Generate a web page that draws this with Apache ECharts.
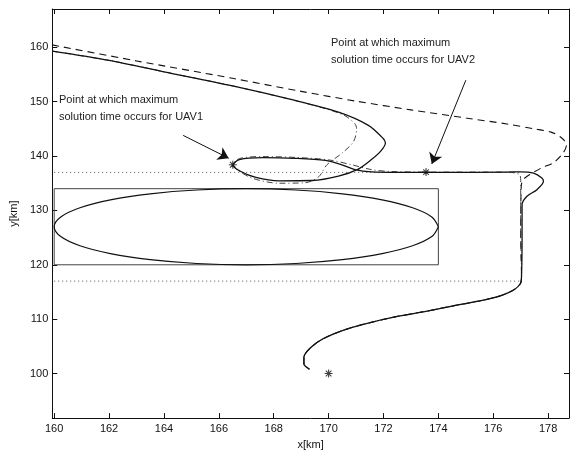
<!DOCTYPE html>
<html>
<head>
<meta charset="utf-8">
<script src="https://cdn.jsdelivr.net/npm/echarts@6/dist/echarts.min.js"></script>
<style>
html,body{margin:0;padding:0;background:#fff;}
#chart{width:570px;height:455px;}
</style>
</head>
<body>
<div id="chart"></div>
<script>
// ---- axis ticks ----
const xTicks = [160, 162, 164, 166, 168, 170, 172, 174, 176, 178];
const yTicks = [100, 110, 120, 130, 140, 150, 160];
const xRange = [159.93, 178.76];
const yRange = [91.8, 167.05];

// ---- UAV1 trajectory (solid): upper part ----
const uav1UpperX = [159.93, 162, 164, 166.5, 168.55, 170.36, 171.45, 171.99, 172.07, 171.9, 171.55, 171.08, 170.36, 169.4, 168.19, 167.35, 166.8, 166.51, 166.75, 167.59, 168.79, 169.88, 170.48, 170.96, 171.57, 172.53, 174, 176.5, 176.99, 177.47, 177.77, 177.83, 177.59, 177.23, 177.05, 177.05];
const uav1UpperY = [159.3, 157.6, 155.5, 152.9, 150.5, 148.07, 145.64, 143.22, 142.4, 140.9, 139.3, 137.6, 136.3, 135.5, 135.45, 136.07, 137.16, 138.36, 139.35, 139.7, 139.58, 139.2, 138.4, 137.5, 137.08, 137.0, 137.0, 137.05, 137.1, 136.85, 135.95, 135.35, 133.82, 132.62, 131.1, 125];

// ---- alternative UAV1 trajectory (dash-dot): upper part ----
const uav1AltX = [159.93, 162, 164, 166.5, 168.55, 169.9, 170.6, 170.95, 171.02, 170.9, 170.48, 169.94, 169.64, 169.15, 168.19, 167.23, 166.69, 166.51, 166.75, 167.59, 168.79, 170.0, 170.84, 171.57, 172.29, 174, 176.5, 176.95, 177.0, 177.0];
const uav1AltY = [159.3, 157.6, 155.5, 152.9, 150.5, 148.7, 147.4, 146.0, 145.0, 142.6, 140.5, 138.4, 136.2, 135.1, 135.0, 135.9, 137.4, 138.36, 139.55, 139.9, 139.75, 139.3, 138.4, 137.5, 137.16, 137.05, 137.05, 136.6, 135.5, 125];

// ---- UAV2 trajectory (dashed): upper part ----
const uav2UpperX = [159.93, 163, 166.5, 169, 171, 173, 175, 176.5, 177.5, 178.1, 178.45, 178.67, 178.55, 178.2, 177.77, 177.35, 177.1, 177.02, 177.0];
const uav2UpperY = [160.45, 157.5, 154.3, 151.9, 150.1, 148.5, 147.0, 145.9, 145.0, 144.4, 143.5, 142.1, 140.6, 138.8, 137.85, 136.65, 135.7, 134.5, 125];

// ---- shared final approach (lower part) ----
const lowerX = [177.03, 176.99, 176.74, 176.26, 175.5, 174.5, 173.5, 172.5, 171.3, 170.5, 169.8, 169.35, 169.1, 169.1, 169.3];
const lowerY = [118, 116.55, 115.35, 114.3, 113.35, 112.4, 111.4, 110.5, 109.1, 107.9, 106.4, 104.8, 103.0, 101.8, 100.8];

// ---- obstacle ----
const rectX = [160, 174, 174, 160, 160];
const rectY = [120, 120, 134, 134, 120];
const ellipseX = [174, 173.76, 173.06, 171.95, 170.5, 168.81, 167, 165.19, 163.5, 162.05, 160.94, 160.24, 160, 160.24, 160.94, 162.05, 163.5, 165.19, 167, 168.81, 170.5, 171.95, 173.06, 173.76, 174];
const ellipseY = [127, 128.81, 130.5, 131.95, 133.06, 133.76, 134, 133.76, 133.06, 131.95, 130.5, 128.81, 127, 125.19, 123.5, 122.05, 120.94, 120.24, 120, 120.24, 120.94, 122.05, 123.5, 125.19, 127];

// ---- safety bounds (dotted) ----
const boundX = [160, 177];
const boundUpperY = [137, 137];
const boundLowerY = [117, 117];

// ---- markers ----
const starX = [170, 166.51, 173.55];
const starY = [100, 138.4, 137.05];

// ---- annotation arrows ----
const arrow1 = [[164.7, 143.8], [166.36, 139.6]];
const arrow2 = [[175.0, 153.95], [173.76, 138.55]];
const note1 = ['Point at which maximum', 'solution time occurs for UAV1'];
const note2 = ['Point at which maximum', 'solution time occurs for UAV2'];

const zip = (xs, ys) => xs.map((x, i) => [x, ys[i]]);
const FONT = '"Liberation Sans", Arial, Helvetica, sans-serif';
const C = '#111';

const chart = echarts.init(document.getElementById('chart'), null, {renderer: 'canvas'});

const axisCommon = {
  type: 'value',
  axisLine: {show: true, onZero: false, lineStyle: {color: C, width: 1}},
  splitLine: {show: false},
  axisTick: {show: true, inside: true, length: 5, lineStyle: {color: C, width: 1}},
};

const lineBase = {type: 'line', showSymbol: false, symbol: 'none', animation: false, z: 3};

const option = {
  animation: false,
  backgroundColor: '#fff',
  textStyle: {fontFamily: FONT},
  grid: {left: 48, right: 1, top: 9, bottom: 32, containLabel: false},
  xAxis: [
    Object.assign({}, axisCommon, {
      min: xRange[0], max: xRange[1], position: 'bottom',
      axisTick: Object.assign({}, axisCommon.axisTick, {customValues: xTicks}),
      axisLabel: {customValues: xTicks, color: C, fontSize: 11, fontFamily: FONT, margin: 5},
      name: 'x[km]', nameLocation: 'middle', nameGap: 20,
      nameTextStyle: {color: C, fontSize: 11, fontFamily: FONT}
    }),
    Object.assign({}, axisCommon, {
      min: xRange[0], max: xRange[1], position: 'top',
      axisTick: Object.assign({}, axisCommon.axisTick, {customValues: xTicks}),
      axisLabel: {show: false}
    })
  ],
  yAxis: [
    Object.assign({}, axisCommon, {
      min: yRange[0], max: yRange[1], position: 'left',
      axisTick: Object.assign({}, axisCommon.axisTick, {customValues: yTicks}),
      axisLabel: {customValues: yTicks, color: C, fontSize: 11, fontFamily: FONT, margin: 4},
      name: 'y[km]', nameLocation: 'middle', nameGap: 19, nameRotate: 90,
      nameTextStyle: {color: C, fontSize: 11, fontFamily: FONT}
    }),
    Object.assign({}, axisCommon, {
      min: yRange[0], max: yRange[1], position: 'right',
      axisTick: Object.assign({}, axisCommon.axisTick, {customValues: yTicks}),
      axisLabel: {show: false}
    })
  ],
  series: [
    Object.assign({}, lineBase, {
      name: 'upper bound', data: zip(boundX, boundUpperY),
      lineStyle: {color: '#555', width: 1, type: [1, 3]}
    }),
    Object.assign({}, lineBase, {
      name: 'lower bound', data: zip(boundX, boundLowerY),
      lineStyle: {color: '#555', width: 1, type: [1, 3]}
    }),
    Object.assign({}, lineBase, {
      name: 'obstacle box', data: zip(rectX, rectY),
      lineStyle: {color: '#444', width: 1}
    }),
    Object.assign({}, lineBase, {
      name: 'obstacle', data: zip(ellipseX, ellipseY), smooth: 0.35,
      lineStyle: {color: C, width: 1.2}
    }),
    Object.assign({}, lineBase, {
      name: 'UAV2', data: zip(uav2UpperX.concat(lowerX), uav2UpperY.concat(lowerY)), smooth: 0.3,
      lineStyle: {color: C, width: 1.1, type: [7, 5]}
    }),
    Object.assign({}, lineBase, {
      name: 'UAV1 alt', data: zip(uav1AltX.concat(lowerX), uav1AltY.concat(lowerY)), smooth: 0.3,
      lineStyle: {color: '#444', width: 1.0, type: [6, 3, 1, 3]}
    }),
    Object.assign({}, lineBase, {
      name: 'UAV1', data: zip(uav1UpperX.concat(lowerX), uav1UpperY.concat(lowerY)), smooth: 0.3,
      lineStyle: {color: C, width: 1.3}, z: 4
    }),
    {
      type: 'scatter', name: 'stars', data: zip(starX, starY), z: 6, animation: false,
      symbol: 'path://M0,-5L0,5M-5,0L5,0M-3.5,-3.5L3.5,3.5M-3.5,3.5L3.5,-3.5',
      symbolSize: 8,
      itemStyle: {color: 'none', borderColor: C, borderWidth: 1.1}
    },
    {
      type: 'lines', coordinateSystem: 'cartesian2d', name: 'arrows', z: 6, animation: false,
      symbol: ['none', 'arrow'], symbolSize: 10.5,
      lineStyle: {color: C, width: 1, opacity: 1},
      data: [{coords: arrow1}, {coords: arrow2}]
    }
  ],
  graphic: [
    {type: 'text', left: 59, top: 92, z: 10,
     style: {text: note1.join('\n'), fill: '#222', font: '11px ' + FONT, lineHeight: 16.5}},
    {type: 'text', left: 331, top: 35, z: 10,
     style: {text: note2.join('\n'), fill: '#222', font: '11px ' + FONT, lineHeight: 16.5}}
  ]
};
chart.setOption(option);
</script>
</body>
</html>
